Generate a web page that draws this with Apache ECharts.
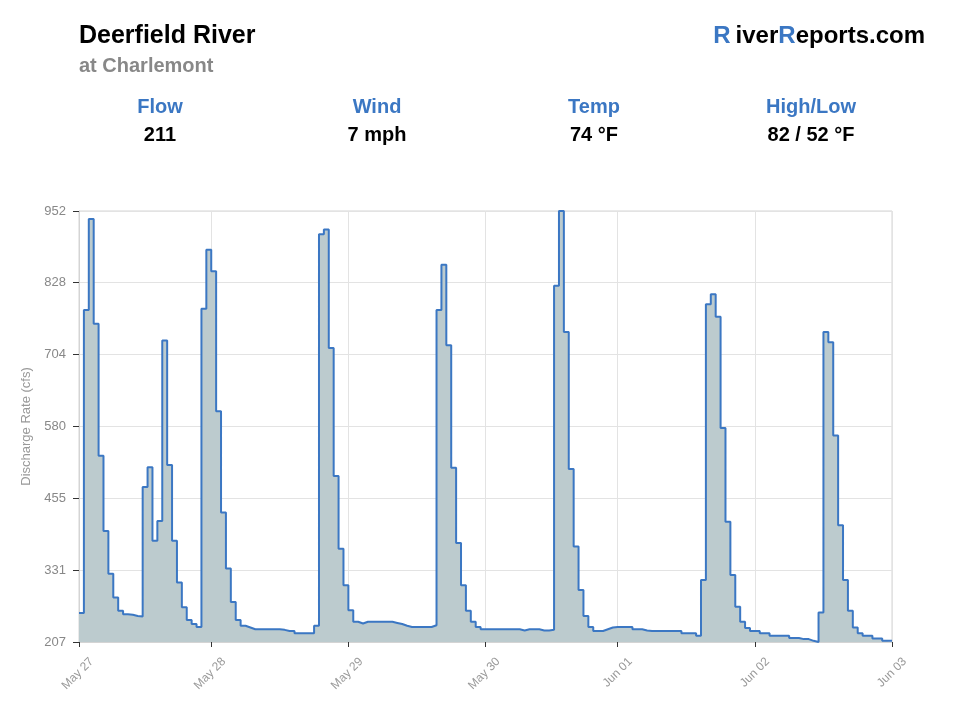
<!DOCTYPE html>
<html>
<head>
<meta charset="utf-8">
<script src="https://cdn.jsdelivr.net/npm/echarts@6/dist/echarts.min.js"></script>
<style>
html,body{margin:0;padding:0;background:#fff;}
#chart{width:960px;height:720px;}
</style>
</head>
<body>
<div id="chart"></div>
<script>
// ---- Data (hourly discharge, cfs) ----
var flow = [
  257, 781, 938, 757, 529, 399, 325, 284, 261, 255,
  254, 252, 251, 475, 509, 382, 416, 728, 513, 382,
  310, 267, 245, 238, 233, 783, 885, 848, 606, 431,
  334, 276, 245, 235, 232, 229, 229, 229, 229, 229,
  229, 228, 226, 226, 222, 222, 222, 222, 235, 912,
  920, 715, 494, 368, 305, 262, 242, 239, 242, 242,
  242, 242, 242, 242, 240, 238, 235, 233, 233, 233,
  233, 233, 236, 781, 859, 720, 508, 378, 305, 261,
  242, 233, 229, 229, 229, 229, 229, 229, 229, 229,
  227, 229, 229, 229, 227, 227, 228, 823, 952, 743,
  506, 372, 297, 252, 233, 226, 226, 229, 232, 233,
  233, 233, 233, 229, 229, 227, 226, 226, 226, 226,
  226, 226, 226, 222, 222, 222, 218, 314, 791, 808,
  769, 577, 415, 323, 268, 242, 231, 226, 226, 222,
  222, 218, 218, 218, 218, 214, 214, 212, 212, 209,
  207, 258, 743, 725, 564, 409, 314, 261, 232, 222,
  218, 218, 213, 213, 209, 209
];
// x tick positions in hour-steps from the first reading, with their labels
var xTickValues = [0, 27, 55, 83, 110, 138, 166];
var xTickLabels = ['May 27', 'May 28', 'May 29', 'May 30', 'Jun 01', 'Jun 02', 'Jun 03'];
var yTickLabels = [207, 331, 455, 580, 704, 828, 952];

var headerTitle = 'Deerfield River';
var headerSub = 'at Charlemont';
var statLabels = ['Flow', 'Wind', 'Temp', 'High/Low'];
var statValues = ['211', '7 mph', '74 °F', '82 / 52 °F'];

// ---- Build ----
var nSteps = flow.length;
var seriesData = flow.map(function (v, i) { return [i, v]; });
seriesData.push([nSteps, flow[nSteps - 1]]);

var BLUE = '#3b77c3';
var FONT = '"Liberation Sans", Arial, Helvetica, sans-serif';
var statX = [160, 377, 594, 811];

var graphics = [
  { type: 'text', x: 79, y: 36, style: { text: headerTitle, fill: '#000', font: 'bold 25px ' + FONT, textVerticalAlign: 'middle', textAlign: 'left' } },
  { type: 'text', x: 79, y: 66, style: { text: headerSub, fill: '#888', font: 'bold 20px ' + FONT, textVerticalAlign: 'middle', textAlign: 'left' } },
  { type: 'text', x: 925, y: 36, style: {
      text: '{b|R}{k|iver}{b2|R}{k|eports.com}',
      align: 'right', verticalAlign: 'middle',
      rich: {
        b: { fill: BLUE, font: 'bold 24px ' + FONT, padding: [0, 5, 0, 0] },
        b2: { fill: BLUE, font: 'bold 24px ' + FONT },
        k: { fill: '#000', font: 'bold 24px ' + FONT }
      }
  } }
];
statLabels.forEach(function (s, i) {
  graphics.push({ type: 'text', x: statX[i], y: 107, style: { text: s, fill: BLUE, font: 'bold 20px ' + FONT, textAlign: 'center', textVerticalAlign: 'middle' } });
  graphics.push({ type: 'text', x: statX[i], y: 135, style: { text: statValues[i], fill: '#000', font: 'bold 20px ' + FONT, textAlign: 'center', textVerticalAlign: 'middle' } });
});

var chart = echarts.init(document.getElementById('chart'), null, { renderer: 'canvas' });
chart.setOption({
  animation: false,
  backgroundColor: '#fff',
  textStyle: { fontFamily: FONT },
  graphic: graphics,
  grid: {
    left: 79, right: 68, top: 211, bottom: 78,
    show: true, borderColor: '#d4d4d4', borderWidth: 1, backgroundColor: 'transparent'
  },
  xAxis: {
    type: 'value', min: 0, max: nSteps,
    axisLine: { show: true, lineStyle: { color: '#d4d4d4', width: 1 } },
    axisTick: { show: true, customValues: xTickValues, length: 5, lineStyle: { color: '#333', width: 1 } },
    axisLabel: {
      customValues: xTickValues,
      rotate: 45, margin: 5, color: '#999', fontSize: 12, fontFamily: FONT,
      verticalAlign: 'top', padding: [12, 0, 0, 0],
      formatter: function (v) {
        var k = xTickValues.indexOf(Math.round(v));
        return k >= 0 ? xTickLabels[k] : '';
      }
    },
    splitLine: { show: true, lineStyle: { color: '#e3e3e3', width: 1 } }
  },
  yAxis: {
    type: 'value', min: yTickLabels[0], max: yTickLabels[yTickLabels.length - 1],
    name: 'Discharge Rate (cfs)', nameLocation: 'middle', nameGap: 42,
    nameTextStyle: { color: '#999', fontSize: 13, fontFamily: FONT },
    axisLine: { show: true, lineStyle: { color: '#d4d4d4', width: 1 } },
    axisTick: { show: true, customValues: yTickLabels, length: 6, lineStyle: { color: '#333', width: 1 } },
    axisLabel: { customValues: yTickLabels, margin: 13, color: '#888', fontSize: 13, fontFamily: FONT,
      formatter: function (v) { return String(Math.round(v)); } },
    splitLine: { show: true, lineStyle: { color: '#e3e3e3', width: 1 } }
  },
  series: [{
    type: 'line',
    step: 'end',
    data: seriesData,
    showSymbol: false,
    symbol: 'none',
    lineStyle: { color: BLUE, width: 2 },
    areaStyle: { color: '#bccbce', opacity: 1 },
    itemStyle: { color: BLUE }
  }]
});
</script>
</body>
</html>
